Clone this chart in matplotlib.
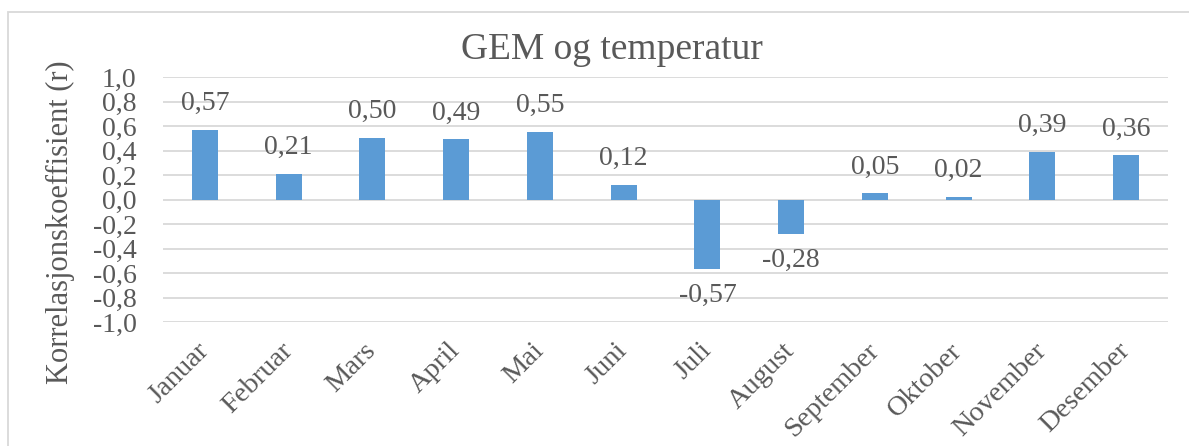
import matplotlib.pyplot as plt
from matplotlib.patches import Rectangle
from matplotlib.ticker import FuncFormatter

plt.rcParams['font.family'] = ['Liberation Serif', 'DejaVu Serif']

maaneder = ['Januar', 'Februar', 'Mars', 'April', 'Mai', 'Juni', 'Juli',
            'August', 'September', 'Oktober', 'November', 'Desember']
korrelasjon = [0.57, 0.21, 0.50, 0.49, 0.55, 0.12, -0.57, -0.28, 0.05, 0.02, 0.39, 0.36]
y_ticks = [-1.0, -0.8, -0.6, -0.4, -0.2, 0.0, 0.2, 0.4, 0.6, 0.8, 1.0]

tekst = '#595959'
blaa = '#5B9BD5'
grid = '#D9D9D9'

fig = plt.figure(figsize=(11.89, 4.46), dpi=100)
# ramme rundt diagrammet (fortsetter utenfor bildet)
fig.patches.append(Rectangle((8 / 1189, -0.1), 1.2, 1.1 - 12 / 446,
                             transform=fig.transFigure, fill=False,
                             edgecolor=grid, linewidth=1.3))

ax = fig.add_axes([163 / 1189, 1 - 322 / 446, (1168 - 163) / 1189, (322 - 77) / 446])
x = range(len(maaneder))
ax.bar(x, korrelasjon, width=0.31, color=blaa, zorder=3)
ax.set_xlim(-0.5, len(maaneder) - 0.5)
ax.set_ylim(-1.0, 1.0)
ax.set_yticks(y_ticks)
ax.yaxis.set_major_formatter(FuncFormatter(lambda v, p: ('%.1f' % v).replace('.', ',')))
ax.grid(axis='y', color=grid, linewidth=1.3, zorder=0)
for s in ax.spines.values():
    s.set_visible(False)
ax.tick_params(axis='y', length=0, pad=19, labelsize=20, labelcolor=tekst)
ax.tick_params(axis='x', length=0, pad=18, labelsize=20.5, labelcolor=tekst)
ax.set_xticks(list(x))
ax.set_xticklabels(maaneder, rotation=45, ha='right', va='center', rotation_mode='anchor')

for i, v in enumerate(korrelasjon):
    lbl = ('%.2f' % v).replace('.', ',')
    if v >= 0:
        ax.annotate(lbl, (i, v), xytext=(0, 10), textcoords='offset points',
                    ha='center', va='bottom', fontsize=20, color=tekst)
    else:
        ax.annotate(lbl, (i, v), xytext=(0, -10), textcoords='offset points',
                    ha='center', va='top', fontsize=20, color=tekst)

fig.text(612 / 1189, 1 - 50 / 446, 'GEM og temperatur', ha='center', va='center',
         fontsize=27, color=tekst)
fig.text(60 / 1189, 1 - 222 / 446, 'Korrelasjonskoeffisient (r)', ha='center', va='center',
         rotation=90, fontsize=22, color=tekst)

fig.savefig('out.png', dpi=100)
